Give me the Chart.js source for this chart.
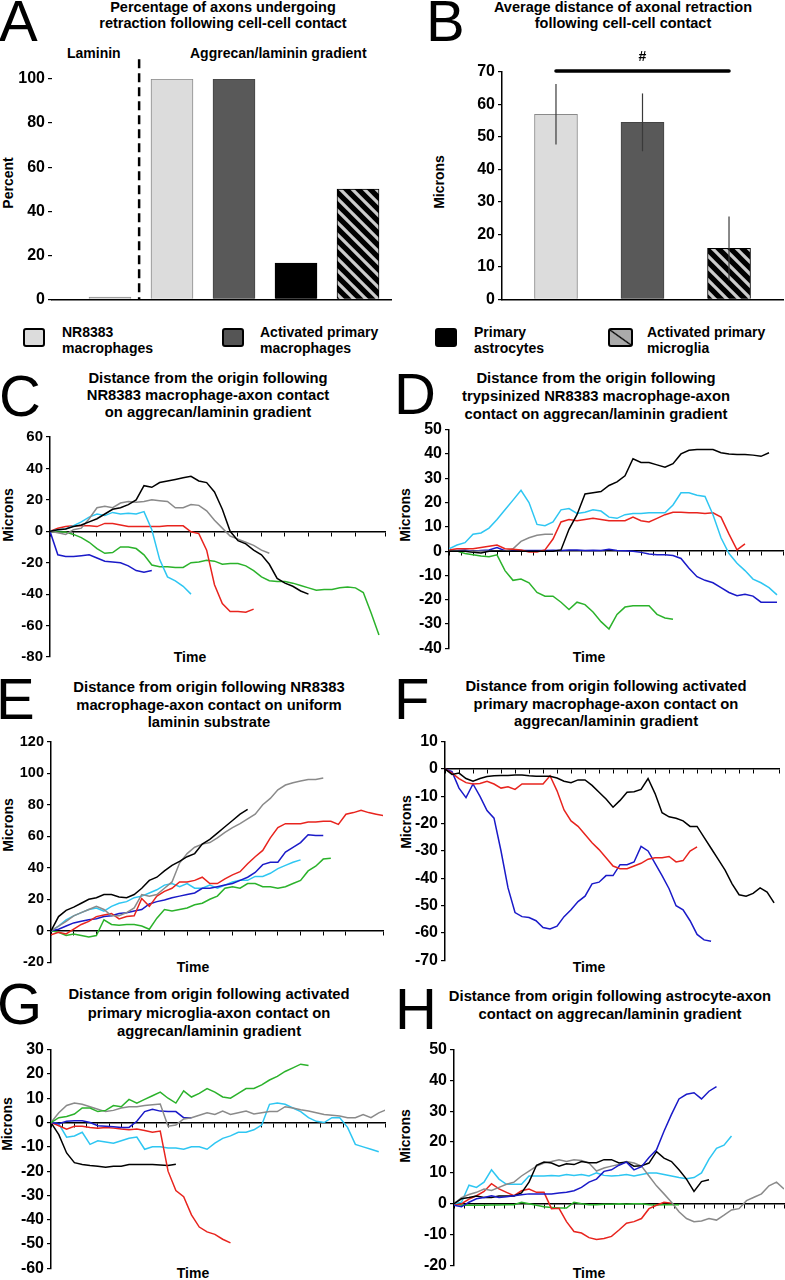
<!DOCTYPE html>
<html>
<head>
<meta charset="utf-8">
<script src="https://cdn.jsdelivr.net/npm/chart.js@4.4.1/dist/chart.umd.min.js"></script>
<style>
body { margin: 0; background: #fff; }
#fig { position: relative; width: 785px; height: 1280px; overflow: hidden; font-family: "Liberation Sans", Arial, sans-serif; color: #000; }
#fig canvas { position: absolute; }
.t { position: absolute; font-weight: bold; font-size: 14.5px; line-height: 16px; text-align: center; white-space: nowrap; }
.t2 { font-size: 14.8px; }
.s { font-size: 14px; }
.letter { position: absolute; font-size: 58px; line-height: 58px; }
.rot { position: absolute; font-weight: bold; font-size: 14px; transform: translate(-50%, -50%) rotate(-90deg); white-space: nowrap; }
.sw { position: absolute; width: 18px; height: 15px; border: 2.5px solid #000; border-radius: 3px; }
.lg { position: absolute; font-weight: bold; font-size: 14px; line-height: 16px; white-space: nowrap; }
</style>
</head>
<body>
<div id="fig">
  <div class="letter" style="left:-1px;top:-8px">A</div>
  <div class="letter" style="left:426px;top:-8px">B</div>
  <div class="letter" style="left:-1px;top:367px">C</div>
  <div class="letter" style="left:394px;top:365px">D</div>
  <div class="letter" style="left:-4px;top:670px">E</div>
  <div class="letter" style="left:394px;top:670px">F</div>
  <div class="letter" style="left:-3px;top:975px">G</div>
  <div class="letter" style="left:395px;top:980px">H</div>

  <div class="t" style="left:23px;width:400px;top:-1px">Percentage of axons undergoing<br>retraction following cell-cell contact</div>
  <div class="t" style="left:423px;width:400px;top:-1px">Average distance of axonal retraction<br>following cell-cell contact</div>
  <div class="t t2" style="left:8px;width:400px;top:370px;line-height:17px">Distance from the origin following<br>NR8383 macrophage-axon contact<br>on aggrecan/laminin gradient</div>
  <div class="t t2" style="left:396px;width:400px;top:369px;line-height:18px">Distance from the origin following<br>trypsinized NR8383 macrophage-axon<br>contact on aggrecan/laminin gradient</div>
  <div class="t t2" style="left:9px;width:400px;top:679px;line-height:17.5px">Distance from origin following NR8383<br>macrophage-axon contact on uniform<br>laminin substrate</div>
  <div class="t t2" style="left:406px;width:400px;top:678px;line-height:17.5px">Distance from origin following activated<br>primary macrophage-axon contact on<br>aggrecan/laminin gradient</div>
  <div class="t t2" style="left:9px;width:400px;top:985px;line-height:18.5px">Distance from origin following activated<br>primary microglia-axon contact on<br>aggrecan/laminin gradient</div>
  <div class="t t2" style="left:410px;width:400px;top:987px;line-height:18px">Distance from origin following astrocyte-axon<br>contact on aggrecan/laminin gradient</div>

  <div class="t s" style="left:67px;top:45px">Laminin</div>
  <div class="t s" style="left:190px;top:45px">Aggrecan/laminin gradient</div>

  <div class="rot" style="left:8px;top:183px">Percent</div>
  <div class="rot" style="left:439px;top:182px">Microns</div>
  <div class="rot" style="left:8px;top:515px">Microns</div>
  <div class="rot" style="left:405px;top:515px">Microns</div>
  <div class="rot" style="left:8px;top:825px">Microns</div>
  <div class="rot" style="left:406px;top:822px">Microns</div>
  <div class="rot" style="left:7px;top:1124px">Microns</div>
  <div class="rot" style="left:405px;top:1136px">Microns</div>

  <div class="t s" style="left:140px;width:100px;top:649px">Time</div>
  <div class="t s" style="left:539px;width:100px;top:649px">Time</div>
  <div class="t s" style="left:143px;width:100px;top:959px">Time</div>
  <div class="t s" style="left:539px;width:100px;top:959px">Time</div>
  <div class="t s" style="left:143px;width:100px;top:1265px">Time</div>
  <div class="t s" style="left:539px;width:100px;top:1265px">Time</div>

  <div class="sw" style="left:23px;top:328px;background:#dcdcdc"></div>
  <div class="lg" style="left:62px;top:324px">NR8383<br>macrophages</div>
  <div class="sw" style="left:222px;top:328px;background:#555"></div>
  <div class="lg" style="left:260px;top:324px">Activated primary<br>macrophages</div>
  <div class="sw" style="left:435px;top:328px;background:#000"></div>
  <div class="lg" style="left:474px;top:324px">Primary<br>astrocytes</div>
  <div class="sw" style="left:608px;top:328px;width:21px;background:linear-gradient(to top right,#aaa calc(50% - 1.3px),#000 50%,#aaa calc(50% + 1.3px))"></div>
  <div class="lg" style="left:647px;top:324px">Activated primary<br>microglia</div>

  <canvas id="chartA"></canvas>
  <canvas id="chartB"></canvas>
  <canvas id="chartC"></canvas>
  <canvas id="chartD"></canvas>
  <canvas id="chartE"></canvas>
  <canvas id="chartF"></canvas>
  <canvas id="chartG"></canvas>
  <canvas id="chartH"></canvas>
</div>

<script>
// A - percentage retracting
const groupsA = ['NR8383 (laminin)', 'NR8383 macrophages', 'Activated primary macrophages', 'Primary astrocytes', 'Activated primary microglia'];
const percentA = [1, 100, 100, 16.5, 50];

// B - average retraction distance
const groupsB = ['NR8383 macrophages', 'Activated primary macrophages', 'Activated primary microglia'];
const micronsB = [57, 54.5, 15.7];
const errorB = [9.3, 8.9, 9.8];

// C - NR8383 on aggrecan/laminin gradient
const blackC = [0,1,1.5,3,4,6,8,11,14,15,17,20,29,28,31,32,33,34,35,32,31,25,14,0,-6,-8,-12,-15,-21,-30,-33,-35,-38,-40];
const grayC = [0,-1,-2,1,2,8,15,16,15,18,19,18.5,19,20,19.5,19,15,15,17,16.5,13,7,2,-3,-5,-7,-9,-12,-14];
const cyanC = [0,1,1.5,3.5,6,9,11,10,12,11,11.5,11,12.5,1,-18,-29,-31.5,-35,-40];
const redC = [0,2,3,3.5,3.5,3.5,3,5,5,4,3,3,3,3,3,3.5,3.5,3.5,-0.3,-1.5,-12,-34,-46,-51,-51,-51.5,-49.5];
const greenC = [0,-0.5,-0.5,-2,-4,-7,-11,-14,-13.5,-10,-10,-11,-15,-21.5,-22.5,-22.5,-23,-23,-20,-19.5,-18.5,-19,-21,-20.5,-20.5,-22,-25,-29,-31.5,-32,-32,-33,-34.5,-36,-37.5,-37,-37,-36,-35.5,-36,-39,-52,-66];
const blueC = [0,-15,-16,-16,-15.5,-15,-17,-19,-19.5,-20,-22,-25,-26,-25];

// D - trypsinized NR8383
const cyanD = [1,2.5,3.5,7,7.5,9.5,13,17,21,25,20,11,10.5,12,17,17.5,15.5,16,17,16.5,14,13.5,15,15.5,15.5,15.8,15.8,15.8,19,24,24,23,22.5,15,5.5,-1,-5,-8,-11.5,-13,-15,-18];
const redD = [0.5,1,1,1,1.5,2,2.5,1,0.8,0.5,-0.3,-0.3,0.5,5,12,13,12.5,13,13.5,13,12.5,12.5,12.5,14,12.5,12,13.5,15,16,16,15.8,15.8,15.5,15.8,14,7,0.5,3];
const blackD = [0,0,0,-0.5,-0.8,0,0,0,0,0,0,0,0,0,0.5,9,15,23.5,24,24.5,27,28.5,31,38,36.5,36.5,35.5,34.5,36,40,41.5,41.8,41.8,41.8,40.5,40,39.8,39.8,39.5,39,40.5];
const grayD = [0,0,0,0,0,0,0,0,1,4,5.5,6.5,7,7];
const greenD = [0,0,-1,-1.5,-2,-2.3,-1.5,-8,-12,-11.5,-13,-17,-18.5,-18.5,-21,-24,-21,-22,-25,-29,-32,-26,-23,-22.5,-22.5,-22.5,-26,-27.5,-28];
const blueD = [0.3,0.3,0.5,0,0.3,0.5,1.5,0.2,0.3,0.3,0.3,0.3,0.3,0.4,0.3,0.5,0.5,0.3,0.4,0.3,0.8,0.3,0.2,0,-0.5,-1.2,-1.5,-1.5,-1.8,-3,-7,-10.5,-12,-13,-15,-17,-18.3,-17.7,-18.5,-21,-21,-21];

// E - NR8383 on uniform laminin
const blackE = [0,9,13,15,17.5,20,21,23,23,21.5,21,23,27,32,34,38,41.5,44,47,49,55,58,62,66,70,74,77];
const grayE = [0,3,6,9.5,11.5,13.5,15.5,13.5,9.5,9.5,11.5,14.5,23,22,23,27,31,43,49,53,55,56,59,62.5,65.5,68,71,74,80,84,89.5,92.5,94,95,96,96,97];
const redE = [-2.5,-1,-2,1,4,6,9,10,11,7.5,9,9.5,20.5,15.5,22,25,27,31,31,32,34,30,30,33,35.5,37.5,42.5,47,51,59,65.5,68,68,68,69,69,69.5,69.5,67.5,74,75,76.5,75,74,73];
const blueE = [0,1,3,5,6,7,7.7,9,9.5,11,11.5,12.5,13.5,17,18.5,19.5,21,22,23,24,27,27,28,29,30,32,34,37,42,43.5,43.5,50,53,56,61,60.5,60.5];
const cyanE = [0,3,7,9.5,11.5,13.5,14.5,12.5,15.5,17.5,18.5,21,22,24,26,29,30,28,30,27,27,29,27,29,31,32,32,34.5,34.5,36.5,39.5,41.5,43.5,45];
const greenE = [0,-1,-3,-2,-3,-4,-3,7,4,3.5,4,4,3,1,8,13.5,12.5,13.5,14.5,16.5,17.5,20,22,27,28,27,30,30,28,28,27,28,30,32,38,41,45.5,46];

// F - activated primary macrophages
const blackF = [0,-2,-1.5,-3.5,-4.5,-3.5,-2.8,-2.5,-2.4,-2.4,-2.2,-2.2,-2.5,-2.7,-2.7,-2.7,-3.3,-4.5,-5,-4,-4,-6,-8.5,-11,-14,-11.5,-8.5,-8.3,-7.5,-3.5,-9,-16,-17.5,-18,-19,-21,-21,-25,-29,-33,-37,-42,-46,-46.5,-45.5,-43.5,-45,-49];
const redF = [0,-1.5,-3.5,-5,-5.5,-5.3,-4.5,-5.5,-7,-6.5,-7.5,-5.5,-5.5,-5.5,-5.5,-2.5,-8,-15,-19,-21,-24,-27,-29.5,-32.5,-35.5,-36.5,-36.5,-35.5,-34.5,-33,-32.5,-32.5,-32,-34,-33.5,-30,-28.5];
const blueF = [0,-1,-7,-10.5,-5.5,-10,-15.2,-18,-30,-43.5,-52.5,-54,-54.3,-55.5,-58,-58.5,-57.5,-54,-51.5,-48.5,-46.5,-42,-41.4,-39,-39,-35,-35,-34,-28.3,-30,-34.5,-39,-43.8,-50,-51.5,-55.5,-60.5,-62.5,-63];

// G - activated primary microglia
const greenG = [0,2,2.5,3.5,6,6,4.5,5,7,6.5,9.5,8,9.5,11,12.5,10,8,13,10.5,12,14,12.5,10.5,10,12,14,14,15.5,17.5,19,21,22.5,24,23.5];
const grayG = [0,4,7,8,7.5,6.5,5.5,4.5,5,6,6.5,6.5,7,7.3,7.6,-1.5,-1,1.5,2,3,4,3.3,4.7,3.3,4,4.7,3.5,4,4.5,4.5,6.5,6,5.3,4.7,4,3.3,3,2.7,2,2,3.3,2,4,5.3];
const blueG = [0,-0.5,0.5,0.7,0.7,0,-1.3,-1.5,-1.7,-2,-2,0.5,4.5,5.5,4.7,4.5,4.5,2,2];
const redG = [0,-1.3,-2.7,-1.5,-1.5,-2,-2.3,-2,-2.3,-2.7,-3,-2.7,-3.3,-4,-3.5,-20,-28,-30.5,-38,-43,-45,-46,-48,-49.5];
const cyanG = [0,-0.5,-6,-5.5,-4,-9,-7.5,-8,-8.5,-7.5,-6.5,-6,-11,-10,-10,-10.5,-10.5,-11,-10,-10,-11,-8.5,-6.5,-5.5,-4,-4,-3,-1,7.5,8,7.5,6,4.5,2,0.5,0,2,2,-2,-9,-10,-11,-12];
const blackG = [0,-5,-12.5,-16.5,-17.3,-17.7,-18,-18.4,-18,-18,-17.3,-17.3,-17.3,-17.3,-17.5,-17.7,-17.2];

// H - astrocytes
const blueH = [-0.5,-1,0.5,1.6,2,2.6,2,2.3,2.6,2.9,3.2,3.2,3.2,3.2,3.5,3.7,4.2,5.3,7,8,10.5,11,12.5,13.5,11,12,15,17.5,23.5,29,34,35.5,36,34,36.5,38];
const blackH = [0,1.6,2,2.5,2,2,2.5,2.5,2.5,3.5,7,12.5,13.5,13.2,12.2,13,12.7,13.7,13.3,13.3,14.3,14.3,13.2,13.5,12.2,12.3,13.2,16.9,14.8,13.7,11,8,4,7.2,7.8];
const grayH = [0,2,3,3.7,4.8,4.3,5.3,6.3,7,9,10.6,12.2,13.2,13.7,14.3,13.7,14.3,14,13.2,10.6,11.6,12.2,12.7,13.7,13.2,12.2,9,5.8,3.2,0.5,-2.6,-4.8,-5.8,-5.6,-4.8,-5.3,-3.7,-2,-1.6,1,2.1,3.2,5.8,7,4.8];
const cyanH = [0,0.5,6,5.3,7,11,8,6.3,6.3,6.3,9,9,9,9.2,9,9.5,9.2,9.5,9,10,9.2,9,9.2,9.5,9,9.5,10,10,9.5,9,8.5,8.1,8.5,10,14.5,18,19,22];
const redH = [-0.5,0,1.5,2.6,4,6.5,4.8,3.7,2.6,4.2,4.8,3.7,3.7,-1.6,-1.5,-5.8,-9,-9.5,-11,-11.6,-11.3,-10.6,-8.5,-6.3,-5.8,-4.8,-1.6,-0.5,0.5,0.2];
const greenH = [0,-0.5,-0.5,-0.5,-0.5,-0.4,-0.4,-0.3,-0.3,0.5,0,-0.5,-1,-1.2,-1.4,-1.4,0.5,0,-0.3,-0.3,-0.2,-0.2,0,-0.2,0,0,-0.3,-0.4,-0.3,-0.3,-0.3];

const BLACK = '#000', GRAY = '#8a8a8a', CYAN = '#2ec6f2', RED = '#e8241e', GREEN = '#2bb22b', BLUE = '#1a1ac8';

Chart.defaults.font.family = '"Liberation Sans", Arial, sans-serif';
Chart.defaults.font.size = 14;
Chart.defaults.font.weight = 'bold';
Chart.defaults.color = '#000';

const frames = n => Array.from({length: n}, (_, i) => i);

function place(id, left, top, width, height) {
  const c = document.getElementById(id);
  c.width = width;
  c.height = height;
  c.style.left = left + 'px';
  c.style.top = top + 'px';
  return c;
}

function yScale(min, max, step, border, size) {
  return {
    min: min, max: max,
    afterFit: s => { s.width = 50; },
    border: { display: border, color: '#000', width: 1.5 },
    grid: { drawOnChartArea: false, tickLength: 4, color: '#000', lineWidth: 1.2 },
    ticks: { stepSize: step, padding: 3, color: '#000', font: { size: size } }
  };
}

function hatch() {
  const s = 12;
  const c = document.createElement('canvas');
  c.width = s; c.height = s;
  const g = c.getContext('2d');
  g.fillStyle = '#cbcbcb';
  g.fillRect(0, 0, s, s);
  g.strokeStyle = '#000';
  g.lineWidth = 5.2;
  [-s, 0, s].forEach(k => {
    g.beginPath();
    g.moveTo(-2, k - 2);
    g.lineTo(s + 2, s + k + 2);
    g.stroke();
  });
  return g.createPattern(c, 'repeat');
}
const stripes = hatch();

const common = {
  responsive: false,
  animation: false,
  plugins: { legend: { display: false }, tooltip: { enabled: false } }
};

// ---- A ----
const lamininDivider = {
  id: 'lamininDivider',
  afterDatasetsDraw(chart) {
    const {ctx, scales: {x, y}} = chart;
    const px = x.getPixelForValue(0.47);
    ctx.save();
    ctx.strokeStyle = '#000';
    ctx.lineWidth = 2.5;
    ctx.setLineDash([9, 5]);
    ctx.beginPath();
    ctx.moveTo(px, y.getPixelForValue(109));
    ctx.lineTo(px, y.getPixelForValue(0));
    ctx.stroke();
    ctx.restore();
  }
};

new Chart(place('chartA', 2, 49, 390, 263), {
  type: 'bar',
  data: {
    labels: groupsA,
    datasets: [{
      data: percentA.map((v, i) => ({x: i, y: v})),
      backgroundColor: ['#dcdcdc', '#dcdcdc', '#595959', '#000', stripes],
      borderColor: ['#8a8a8a', '#8a8a8a', '#444', '#000', '#000'],
      borderWidth: 1,
      barThickness: 42
    }]
  },
  options: Object.assign({}, common, {
    layout: { padding: { top: 30, bottom: 10, left: 0, right: 0 } },
    scales: {
      x: { type: 'linear', offset: false, min: -0.935, max: 4.548, position: {y: 0},
           border: { color: '#000', width: 1.5 }, grid: { display: false }, ticks: { display: false } },
      y: yScale(0, 100, 20, false, 16)
    }
  }),
  plugins: [lamininDivider]
});

// ---- B ----
const errorBars = {
  id: 'errorBars',
  afterDatasetsDraw(chart) {
    const {ctx, scales: {x, y}} = chart;
    ctx.save();
    ctx.strokeStyle = '#3a3a3a';
    ctx.lineWidth = 1.2;
    micronsB.forEach((v, i) => {
      const px = x.getPixelForValue(i);
      ctx.beginPath();
      ctx.moveTo(px, y.getPixelForValue(v - errorB[i]));
      ctx.lineTo(px, y.getPixelForValue(v + errorB[i]));
      ctx.stroke();
    });
    // significance bracket
    const yb = y.getPixelForValue(70.3);
    ctx.strokeStyle = '#000';
    ctx.lineWidth = 3.5;
    ctx.lineCap = 'round';
    ctx.beginPath();
    ctx.moveTo(x.getPixelForValue(0), yb);
    ctx.lineTo(x.getPixelForValue(2), yb);
    ctx.stroke();
    ctx.fillStyle = '#000';
    ctx.font = 'bold 14px "Liberation Sans", Arial, sans-serif';
    ctx.textAlign = 'center';
    ctx.textBaseline = 'middle';
    ctx.fillText('#', x.getPixelForValue(1), y.getPixelForValue(74.6));
    ctx.restore();
  }
};

new Chart(place('chartB', 452, 42, 333, 270), {
  type: 'bar',
  data: {
    labels: groupsB,
    datasets: [{
      data: micronsB.map((v, i) => ({x: i, y: v})),
      backgroundColor: ['#dcdcdc', '#595959', stripes],
      borderColor: ['#8a8a8a', '#444', '#000'],
      borderWidth: 1,
      barThickness: 43
    }]
  },
  options: Object.assign({}, common, {
    layout: { padding: { top: 30, bottom: 10, left: 0, right: 2 } },
    scales: {
      x: { type: 'linear', offset: false, min: -0.624, max: 2.624, position: {y: 0},
           border: { color: '#000', width: 1.5 }, grid: { display: false }, ticks: { display: false } },
      y: yScale(0, 70, 10, true, 16)
    }
  }),
  plugins: [errorBars]
});

// ---- line panels ----
function lineChart(id, area, yMin, yMax, yStep, xMax, xStep, tickSize, series) {
  const c = place(id, area[0] - 50, area[1] - 10, area[2] - area[0] + 52, area[3] - area[1] + 20);
  const n = Math.max(...series.map(s => s[0].length));
  new Chart(c, {
    type: 'line',
    data: {
      labels: frames(n),
      datasets: series.map(([data, color]) => ({
        data: data, borderColor: color, borderWidth: 1.5,
        pointRadius: 0, tension: 0, fill: false
      }))
    },
    options: Object.assign({}, common, {
      layout: { padding: { top: 10, bottom: 10, left: 0, right: 2 } },
      scales: {
        x: {
          type: 'linear', min: 0, max: xMax, position: {y: 0},
          border: { color: '#000', width: 1.5 },
          grid: { drawOnChartArea: false, tickLength: 4, color: '#000', lineWidth: 1 },
          ticks: { display: false, stepSize: xStep }
        },
        y: yScale(yMin, yMax, yStep, true, tickSize)
      }
    })
  });
}

lineChart('chartC', [50, 435, 385, 659], -80, 60, 20, 42.77, 3, 15,
  [[blackC, BLACK], [grayC, GRAY], [cyanC, CYAN], [redC, RED], [greenC, GREEN], [blueC, BLUE]]);

lineChart('chartD', [449, 427, 783, 651], -40, 50, 10, 41.75, 1.5, 16,
  [[blackD, BLACK], [cyanD, CYAN], [redD, RED], [grayD, GRAY], [greenD, GREEN], [blueD, BLUE]]);

lineChart('chartE', [51, 740, 383, 964], -20, 120, 20, 43.9, 3, 14.5,
  [[blackE, BLACK], [grayE, GRAY], [redE, RED], [blueE, BLUE], [cyanE, CYAN], [greenE, GREEN]]);

lineChart('chartF', [445, 739, 779, 963], -70, 10, 10, 47.7, 2, 16,
  [[blackF, BLACK], [redF, RED], [blueF, BLUE]]);

lineChart('chartG', [51, 1047, 385, 1271], -60, 30, 10, 42.8, 1.5, 16,
  [[greenG, GREEN], [grayG, GRAY], [blueG, BLUE], [redG, RED], [cyanG, CYAN], [blackG, BLACK]]);

lineChart('chartH', [454, 1047, 784, 1268], -20, 50, 10, 44, 4 / 3, 16,
  [[blueH, BLUE], [blackH, BLACK], [grayH, GRAY], [cyanH, CYAN], [redH, RED], [greenH, GREEN]]);
</script>
</body>
</html>
